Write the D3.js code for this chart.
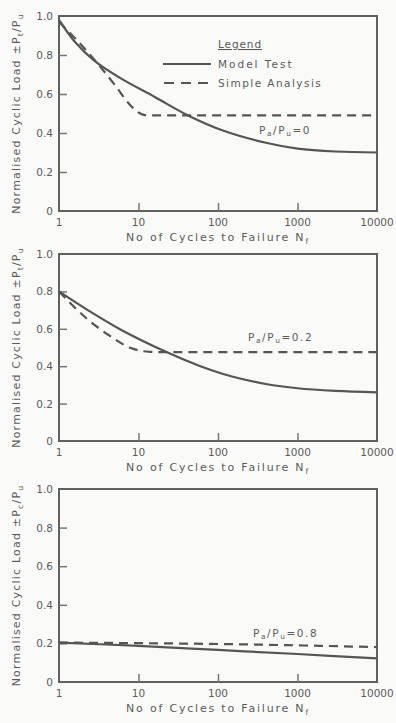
<!DOCTYPE html>
<html>
<head>
<meta charset="utf-8">
<script src="https://cdn.jsdelivr.net/npm/d3@7"></script>
<style>
  body { margin: 0; background: #fafaf8; }
  text { font-family: "DejaVu Sans", sans-serif; fill: #5a5a5a; }
</style>
</head>
<body>
<svg id="chart" width="396" height="723"></svg>
<script>
// Data (N = cycles to failure, load = normalised cyclic load)
const xTicks = [1, 10, 100, 1000, 10000];
const yTicks = [0, 0.2, 0.4, 0.6, 0.8, 1.0];

const p1ModelN    = [1, 1.6, 2.8, 6, 16, 42, 120, 400, 1000, 3000, 10000];
const p1ModelLoad = [0.98, 0.865, 0.77, 0.68, 0.585, 0.49, 0.41, 0.35, 0.32, 0.305, 0.30];
const p1SimpleN    = [1, 2.8, 5, 8, 10, 12, 20, 10000];
const p1SimpleLoad = [0.97, 0.775, 0.648, 0.54, 0.505, 0.492, 0.49, 0.49];

const p2ModelN    = [1, 2.3, 6, 24, 60, 150, 400, 1000, 3000, 10000];
const p2ModelLoad = [0.80, 0.70, 0.595, 0.47, 0.40, 0.345, 0.305, 0.282, 0.268, 0.26];
const p2SimpleN    = [1, 2.3, 4.2, 8, 14, 25, 10000];
const p2SimpleLoad = [0.80, 0.65, 0.567, 0.497, 0.477, 0.475, 0.475];

const p3ModelN    = [1, 10, 100, 1000, 10000];
const p3ModelLoad = [0.204, 0.187, 0.166, 0.145, 0.122];
const p3SimpleN    = [1, 100, 10000];
const p3SimpleLoad = [0.204, 0.197, 0.181];

const ratioLabels = ["0", "0.2", "0.8"];
const loadSubs = ["t", "t", "c"];

const zip = (n, v) => n.map((d, i) => ({n: d, v: v[i]}));

const panels = [
  {top: 16,  bottom: 211, model: zip(p1ModelN, p1ModelLoad), simple: zip(p1SimpleN, p1SimpleLoad), lx: 259, ly: 134, legend: true},
  {top: 254, bottom: 441, model: zip(p2ModelN, p2ModelLoad), simple: zip(p2SimpleN, p2SimpleLoad), lx: 248, ly: 341},
  {top: 489, bottom: 682, model: zip(p3ModelN, p3ModelLoad), simple: zip(p3SimpleN, p3SimpleLoad), lx: 253, ly: 637}
];

const svg = d3.select("#chart");
const left = 59, right = 377;
const ink = "#555";

const x = d3.scaleLog().domain([1, 10000]).range([left, right]);

// text with subscripts: parts = [[text, isSub], ...]
function subText(sel, parts, size) {
  parts.forEach(([t, sub]) => {
    sel.append("tspan")
      .attr("font-size", sub ? size * 0.7 : size)
      .attr("baseline-shift", sub ? "-35%" : null)
      .text(t);
  });
  return sel;
}

panels.forEach((p, i) => {
  const y = d3.scaleLinear().domain([0, 1]).range([p.bottom, p.top]);
  const g = svg.append("g");

  // frame
  g.append("rect")
    .attr("x", left).attr("y", p.top)
    .attr("width", right - left).attr("height", p.bottom - p.top)
    .attr("fill", "none").attr("stroke", "#606060").attr("stroke-width", 2);

  // inner ticks
  const yAxis = d3.axisRight(y).tickValues(yTicks.slice(1, -1)).tickSize(8).tickFormat("");
  g.append("g").attr("transform", `translate(${left},0)`).call(yAxis)
    .call(a => a.select(".domain").remove())
    .selectAll("line").attr("stroke", "#777").attr("stroke-width", 1.5);

  const xAxis = d3.axisTop(x).tickValues(xTicks.slice(1, -1)).tickSize(8).tickFormat("");
  g.append("g").attr("transform", `translate(0,${p.bottom})`).call(xAxis)
    .call(a => a.select(".domain").remove())
    .selectAll("line").attr("stroke", "#777").attr("stroke-width", 1.5);

  // tick labels
  g.selectAll(".ylab").data(yTicks).join("text")
    .attr("x", 53).attr("y", d => y(d) + 4)
    .attr("text-anchor", "end").attr("font-size", 10.5)
    .text(d => d === 0 ? "0" : d.toFixed(1));

  g.selectAll(".xlab").data(xTicks).join("text")
    .attr("x", d => x(d)).attr("y", p.bottom + 15)
    .attr("text-anchor", "middle")
    .attr("font-size", 10.5)
    .text(d => d);

  // axis titles
  subText(g.append("text")
    .attr("x", (left + right) / 2).attr("y", p.bottom + 30)
    .attr("text-anchor", "middle").attr("letter-spacing", 1.8),
    [["No  of Cycles to Failure N", false], ["f", true]], 11);

  subText(g.append("text")
    .attr("transform", `translate(20,${(p.top + p.bottom) / 2}) rotate(-90)`)
    .attr("text-anchor", "middle").attr("letter-spacing", 1.2),
    [["Normalised Cyclic Load ±P", false], [loadSubs[i], true], ["/P", false], ["u", true]], 11);

  // curves
  const smooth = d3.line().x(d => x(d.n)).y(d => y(d.v)).curve(d3.curveCatmullRom.alpha(0.5));
  const knee = d3.line().x(d => x(d.n)).y(d => y(d.v)).curve(d3.curveMonotoneX);
  g.append("path").datum(p.model).attr("d", smooth)
    .attr("fill", "none").attr("stroke", ink).attr("stroke-width", 2.2);
  g.append("path").datum(p.simple).attr("d", knee)
    .attr("fill", "none").attr("stroke", ink).attr("stroke-width", 2.2)
    .attr("stroke-dasharray", "9,6");

  // P_a/P_u label
  subText(g.append("text").attr("x", p.lx).attr("y", p.ly).attr("letter-spacing", 1.6),
    [["P", false], ["a", true], ["/P", false], ["u", true], ["=" + ratioLabels[i], false]], 10.5);

  if (p.legend) {
    g.append("text").attr("x", 218).attr("y", 48).attr("font-size", 10.5)
      .attr("letter-spacing", 0.9).attr("text-decoration", "underline").text("Legend");
    g.append("line").attr("x1", 163).attr("x2", 211).attr("y1", 64).attr("y2", 64)
      .attr("stroke", ink).attr("stroke-width", 2.2);
    g.append("text").attr("x", 218).attr("y", 68).attr("font-size", 10.5)
      .attr("letter-spacing", 2.0).text("Model Test");
    g.append("line").attr("x1", 164).attr("x2", 211).attr("y1", 83).attr("y2", 83)
      .attr("stroke", ink).attr("stroke-width", 2.2).attr("stroke-dasharray", "10,7");
    g.append("text").attr("x", 218).attr("y", 87).attr("font-size", 10.5)
      .attr("letter-spacing", 1.45).text("Simple Analysis");
  }
});
</script>
</body>
</html>
